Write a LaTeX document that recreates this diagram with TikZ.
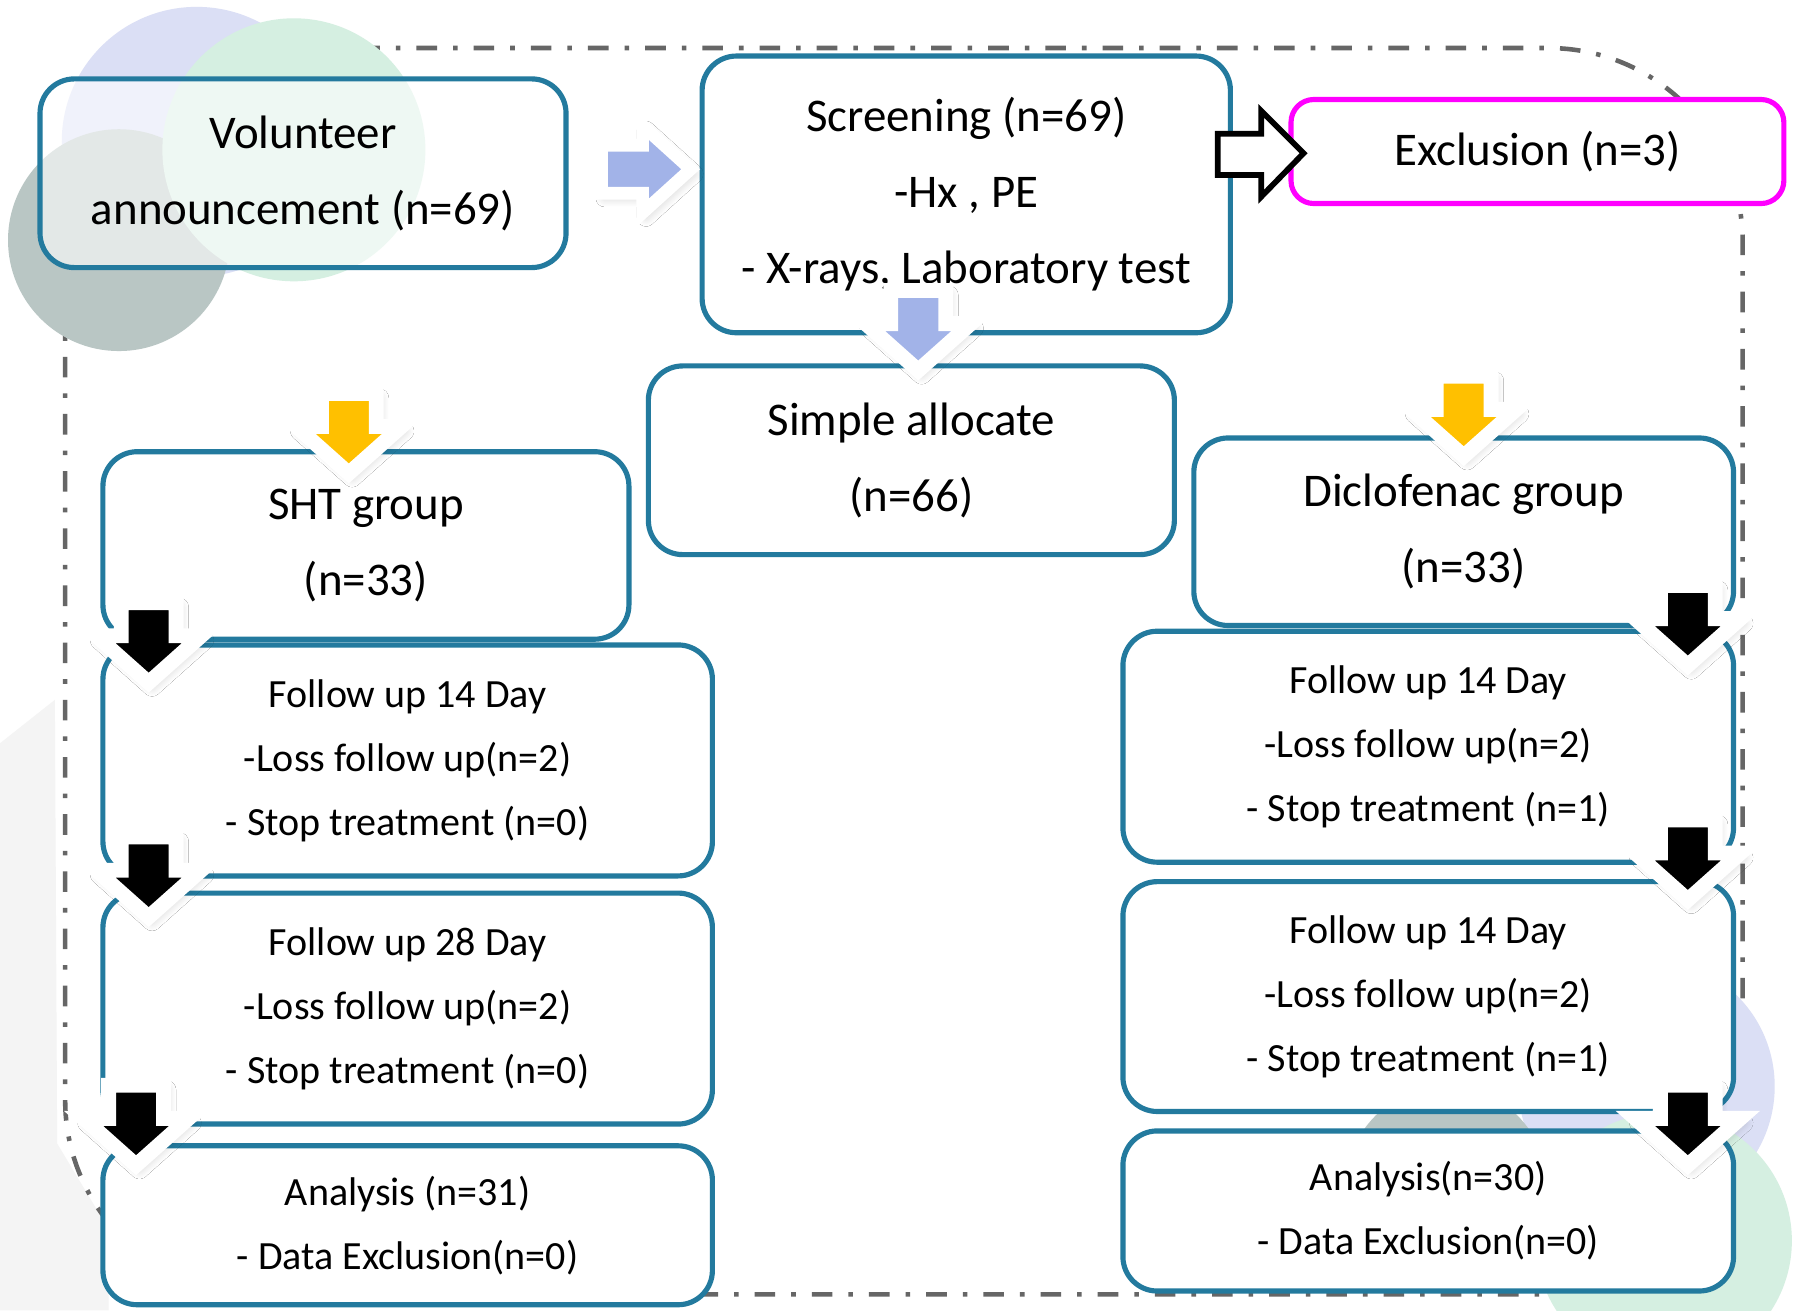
\documentclass[tikz,border=0pt]{standalone}
\usepackage{fontspec}
\setmainfont{Carlito}
\usetikzlibrary{shadows.blur}

\definecolor{boxblue}{RGB}{35,122,158}
\definecolor{lav}{RGB}{219,223,245}
\definecolor{mint}{RGB}{213,239,225}
\definecolor{sage}{RGB}{185,198,196}
\definecolor{arrowblue}{RGB}{162,179,232}
\definecolor{amber}{RGB}{255,192,0}
\definecolor{framegray}{RGB}{102,102,102}
\definecolor{magentaline}{RGB}{255,0,255}
\definecolor{haze}{RGB}{244,244,244}

\tikzset{
  flowbox/.style={draw=boxblue, line width=4.5pt, rounded corners=30pt, fill=white,
    align=center, inner sep=0pt, text=black},
  bigtext/.style={font=\fontsize{41}{66.5}\selectfont},
  smalltext/.style={font=\fontsize{35}{56}\selectfont},
  haloarrow/.style={draw=white, line width=13pt, line join=miter, miter limit=4,
    blur shadow={shadow xshift=3pt, shadow yshift=-4pt, shadow blur radius=8pt,
      shadow blur steps=10, shadow opacity=20}},
  frameline/.style={draw=framegray, line width=4pt,
    dash pattern=on 18pt off 14pt on 4pt off 14pt, rounded corners=170pt},
}

% block arrow pointing down with a white rim, tip of the rim at (#2,#3)
\newcommand\flowdown[3]{\path[haloarrow, fill=#1, shift={(#2,#3)}]
  (-24,-70) -- (24,-70) -- (24,-41) -- (46,-41) -- (0,0) -- (-46,-41) -- (-24,-41) -- cycle;}
% block arrow pointing right with a white rim, tip of the rim at (#2,#3)
\newcommand\flowright[3]{\path[haloarrow, line width=11pt, fill=#1, shift={(#2,#3)}]
  (-78,-21) -- (-42,-21) -- (-42,-38) -- (0,0) -- (-42,38) -- (-42,21) -- (-78,21) -- cycle;}

\begin{document}
\begin{tikzpicture}[x=1pt, y=-1pt]
\useasboundingbox (0,0) rectangle (1568,1146);
\fill[white] (0,0) rectangle (1568,1146);

% soft grey backdrop on the left edge
\fill[haze] (0,650) -- (48,612) -- (50,1000) -- (95,1075) -- (95,1146) -- (0,1146) -- cycle;

% dash-dot frame
\draw[frameline] (57,42) rectangle (1524,1132);

% decorative discs, upper left
\fill[lav]  (172,124) circle[radius=118pt];
\fill[sage] (104,210) circle[radius=97pt];
\fill[mint] (257,131) circle[radius=115pt];
% decorative discs, lower right
\fill[lav]  (1440,950) circle[radius=112pt];
\fill[sage] (1265,1038) circle[radius=88pt];
\fill[mint] (1455,1085) circle[radius=112pt];

% boxes
\node[flowbox, bigtext, fill opacity=0.6, text opacity=1, minimum width=460pt, minimum height=165pt]
  (vol) at (265,151.5) {Volunteer\\announcement (n=69)};
\node[flowbox, bigtext, minimum width=462pt, minimum height=242pt]
  (scr) at (845,170) {Screening (n=69)\\-Hx , PE\\- X-rays, Laboratory test};
\node[flowbox, bigtext, draw=magentaline, rounded corners=20pt, minimum width=431pt, minimum height=91pt]
  (exc) at (1344.5,132.5) {Exclusion (n=3)};
\node[flowbox, bigtext, minimum width=460pt, minimum height=165pt]
  (alloc) at (797,402.5) {Simple allocate\\(n=66)};
\node[flowbox, bigtext, minimum width=460pt, minimum height=164pt]
  (sht) at (320,477) {SHT group\\(n=33)};
\node[flowbox, bigtext, minimum width=472pt, minimum height=164pt]
  (dic) at (1280,465) {Diclofenac group\\(n=33)};

\node[flowbox, smalltext, minimum width=533pt, minimum height=202pt]
  (lf1) at (356.5,665) {Follow up 14 Day\\-Loss follow up(n=2)\\- Stop treatment (n=0)};
\node[flowbox, smalltext, minimum width=533pt, minimum height=202pt]
  (lf2) at (356.5,882) {Follow up 28 Day\\-Loss follow up(n=2)\\- Stop treatment (n=0)};
\node[flowbox, smalltext, minimum width=533pt, minimum height=139pt]
  (lan) at (356.5,1071.5) {Analysis (n=31)\\- Data Exclusion(n=0)};

\node[flowbox, smalltext, minimum width=534pt, minimum height=202pt]
  (rf1) at (1249,653) {Follow up 14 Day\\-Loss follow up(n=2)\\- Stop treatment (n=1)};
\node[flowbox, smalltext, minimum width=534pt, minimum height=201pt]
  (rf2) at (1249,871.5) {Follow up 14 Day\\-Loss follow up(n=2)\\- Stop treatment (n=1)};
\node[flowbox, smalltext, minimum width=534pt, minimum height=140pt]
  (ran) at (1249,1059) {Analysis(n=30)\\- Data Exclusion(n=0)};

% arrows between stages
\flowright{arrowblue}{604}{148}
\flowdown{arrowblue}{803}{324}
\path[draw=black, line width=5pt, fill=white, line join=miter]
  (1065,117) -- (1103,117) -- (1103,97) -- (1140,134) -- (1103,172) -- (1103,153) -- (1065,153) -- cycle;

\flowdown{amber}{305}{414}
\flowdown{amber}{1280}{399}

\flowdown{black}{130}{597}
\flowdown{black}{130}{802}
\flowdown{black}{119}{1019}
\flowdown{black}{1476}{582}
\flowdown{black}{1476}{787}
\flowdown{black}{1476}{1019}
\end{tikzpicture}
\end{document}
